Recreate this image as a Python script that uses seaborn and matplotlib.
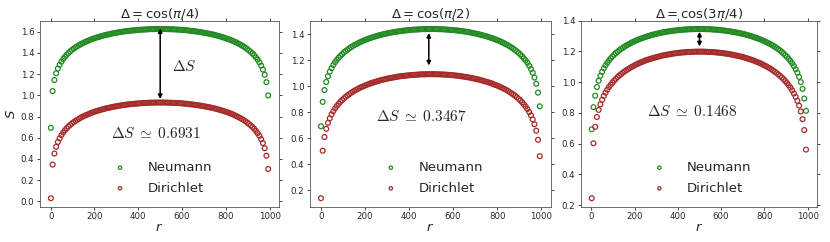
import matplotlib
matplotlib.use("Agg")
from matplotlib import pyplot as plt
import seaborn as sns

# site index along the chain (every 8th site of L = 1000)
r = list(range(1, 1000, 8))

# Delta = cos(pi/4)
neu_pi4 = [0.693, 1.040, 1.144, 1.208, 1.253, 1.288, 1.317, 1.342, 1.363, 1.382, 1.399, 1.414, 1.428, 1.440, 1.452,
           1.462, 1.472, 1.482, 1.490, 1.499, 1.506, 1.513, 1.520, 1.527, 1.533, 1.539, 1.544, 1.549, 1.554, 1.559,
           1.563, 1.568, 1.572, 1.575, 1.579, 1.583, 1.586, 1.589, 1.592, 1.595, 1.598, 1.600, 1.603, 1.605, 1.607,
           1.609, 1.611, 1.612, 1.614, 1.615, 1.617, 1.618, 1.619, 1.620, 1.621, 1.622, 1.623, 1.624, 1.624, 1.624,
           1.625, 1.625, 1.625,
           1.625, 1.625, 1.625, 1.624, 1.624, 1.623, 1.623, 1.622, 1.621, 1.620, 1.619, 1.618, 1.617, 1.615, 1.614,
           1.612, 1.610, 1.608, 1.606, 1.604, 1.602, 1.599, 1.597, 1.594, 1.591, 1.588, 1.585, 1.582, 1.578, 1.575,
           1.571, 1.567, 1.562, 1.558, 1.553, 1.548, 1.543, 1.537, 1.531, 1.525, 1.519, 1.512, 1.504, 1.497, 1.488,
           1.479, 1.470, 1.460, 1.449, 1.437, 1.424, 1.410, 1.395, 1.378, 1.358, 1.336, 1.311, 1.280, 1.243, 1.194,
           1.124, 0.999]
dir_pi4 = [0.030, 0.347, 0.451, 0.515, 0.560, 0.595, 0.624, 0.649, 0.670, 0.689, 0.706, 0.721, 0.735, 0.747, 0.759,
           0.769, 0.779, 0.789, 0.797, 0.806, 0.813, 0.820, 0.827, 0.834, 0.840, 0.846, 0.851, 0.856, 0.861, 0.866,
           0.870, 0.875, 0.879, 0.882, 0.886, 0.890, 0.893, 0.896, 0.899, 0.902, 0.905, 0.907, 0.910, 0.912, 0.914,
           0.916, 0.918, 0.919, 0.921, 0.922, 0.924, 0.925, 0.926, 0.927, 0.928, 0.929, 0.930, 0.931, 0.931, 0.931,
           0.932, 0.932, 0.932,
           0.932, 0.932, 0.932, 0.931, 0.931, 0.930, 0.930, 0.929, 0.928, 0.927, 0.926, 0.925, 0.924, 0.922, 0.921,
           0.919, 0.917, 0.915, 0.913, 0.911, 0.909, 0.906, 0.904, 0.901, 0.898, 0.895, 0.892, 0.889, 0.885, 0.882,
           0.878, 0.874, 0.869, 0.865, 0.860, 0.855, 0.850, 0.844, 0.838, 0.832, 0.826, 0.819, 0.811, 0.804, 0.795,
           0.786, 0.777, 0.767, 0.756, 0.744, 0.731, 0.717, 0.702, 0.685, 0.665, 0.643, 0.618, 0.587, 0.550, 0.501,
           0.431, 0.306]

# Delta = cos(pi/2)
neu_pi2 = [0.693, 0.880, 0.971, 1.033, 1.077, 1.112, 1.140, 1.164, 1.185, 1.203, 1.219, 1.234, 1.247, 1.260, 1.271,
           1.281, 1.291, 1.300, 1.309, 1.317, 1.324, 1.331, 1.338, 1.344, 1.350, 1.356, 1.361, 1.366, 1.371, 1.376,
           1.380, 1.384, 1.388, 1.392, 1.395, 1.399, 1.402, 1.405, 1.408, 1.411, 1.413, 1.416, 1.418, 1.420, 1.422,
           1.424, 1.426, 1.428, 1.429, 1.431, 1.432, 1.433, 1.435, 1.436, 1.436, 1.437, 1.438, 1.439, 1.439, 1.439,
           1.440, 1.440, 1.440,
           1.440, 1.440, 1.440, 1.439, 1.439, 1.438, 1.438, 1.437, 1.436, 1.435, 1.434, 1.433, 1.432, 1.430, 1.429,
           1.427, 1.426, 1.424, 1.422, 1.420, 1.417, 1.415, 1.413, 1.410, 1.407, 1.404, 1.401, 1.398, 1.394, 1.391,
           1.387, 1.383, 1.379, 1.374, 1.370, 1.365, 1.360, 1.354, 1.349, 1.343, 1.336, 1.329, 1.322, 1.315, 1.307,
           1.298, 1.289, 1.279, 1.268, 1.257, 1.244, 1.230, 1.215, 1.199, 1.180, 1.158, 1.133, 1.104, 1.067, 1.020,
           0.951, 0.846]
dir_pi2 = [0.140, 0.505, 0.610, 0.673, 0.719, 0.754, 0.784, 0.808, 0.830, 0.849, 0.865, 0.881, 0.894, 0.907, 0.919,
           0.929, 0.939, 0.949, 0.958, 0.966, 0.973, 0.981, 0.988, 0.994, 1.000, 1.006, 1.011, 1.017, 1.022, 1.027,
           1.031, 1.035, 1.039, 1.043, 1.047, 1.050, 1.054, 1.057, 1.060, 1.063, 1.065, 1.068, 1.070, 1.073, 1.075,
           1.077, 1.079, 1.080, 1.082, 1.083, 1.085, 1.086, 1.087, 1.088, 1.089, 1.090, 1.091, 1.092, 1.092, 1.092,
           1.093, 1.093, 1.093,
           1.093, 1.093, 1.093, 1.092, 1.092, 1.091, 1.091, 1.090, 1.089, 1.088, 1.087, 1.086, 1.085, 1.083, 1.082,
           1.080, 1.078, 1.076, 1.074, 1.072, 1.070, 1.067, 1.065, 1.062, 1.059, 1.056, 1.053, 1.050, 1.046, 1.042,
           1.038, 1.034, 1.030, 1.025, 1.021, 1.015, 1.010, 1.005, 0.999, 0.993, 0.986, 0.979, 0.972, 0.964, 0.955,
           0.946, 0.937, 0.927, 0.916, 0.904, 0.891, 0.877, 0.861, 0.844, 0.825, 0.802, 0.777, 0.746, 0.708, 0.659,
           0.589, 0.463]

# Delta = cos(3pi/4)
neu_3pi4 = [0.693, 0.837, 0.911, 0.968, 1.009, 1.041, 1.067, 1.090, 1.109, 1.126, 1.141, 1.155, 1.167, 1.178, 1.189,
            1.198, 1.207, 1.216, 1.223, 1.231, 1.238, 1.244, 1.250, 1.256, 1.262, 1.267, 1.272, 1.277, 1.281, 1.285,
            1.289, 1.293, 1.297, 1.300, 1.304, 1.307, 1.310, 1.313, 1.315, 1.318, 1.320, 1.323, 1.325, 1.327, 1.329,
            1.330, 1.332, 1.334, 1.335, 1.336, 1.338, 1.339, 1.340, 1.341, 1.342, 1.342, 1.343, 1.344, 1.344, 1.344,
            1.345, 1.345, 1.345,
            1.345, 1.345, 1.345, 1.344, 1.344, 1.344, 1.343, 1.342, 1.341, 1.341, 1.340, 1.339, 1.337, 1.336, 1.335,
            1.333, 1.332, 1.330, 1.328, 1.326, 1.324, 1.322, 1.320, 1.317, 1.315, 1.312, 1.309, 1.306, 1.303, 1.300,
            1.296, 1.292, 1.288, 1.284, 1.280, 1.275, 1.271, 1.266, 1.260, 1.255, 1.249, 1.243, 1.236, 1.229, 1.222,
            1.214, 1.205, 1.196, 1.186, 1.175, 1.164, 1.151, 1.137, 1.122, 1.104, 1.084, 1.061, 1.034, 1.000, 0.956,
            0.893, 0.813]
dir_3pi4 = [0.245, 0.602, 0.709, 0.773, 0.819, 0.855, 0.885, 0.910, 0.931, 0.951, 0.968, 0.983, 0.997, 1.010, 1.021,
            1.033, 1.043, 1.052, 1.061, 1.069, 1.077, 1.084, 1.091, 1.098, 1.104, 1.110, 1.116, 1.121, 1.126, 1.131,
            1.135, 1.140, 1.144, 1.148, 1.151, 1.155, 1.158, 1.161, 1.164, 1.167, 1.170, 1.173, 1.175, 1.177, 1.179,
            1.181, 1.183, 1.185, 1.187, 1.188, 1.190, 1.191, 1.192, 1.193, 1.194, 1.195, 1.196, 1.196, 1.197, 1.197,
            1.198, 1.198, 1.198,
            1.198, 1.198, 1.198, 1.197, 1.197, 1.196, 1.196, 1.195, 1.194, 1.193, 1.192, 1.191, 1.189, 1.188, 1.186,
            1.185, 1.183, 1.181, 1.179, 1.177, 1.174, 1.172, 1.169, 1.167, 1.164, 1.161, 1.157, 1.154, 1.150, 1.147,
            1.143, 1.139, 1.134, 1.130, 1.125, 1.120, 1.114, 1.108, 1.103, 1.096, 1.090, 1.083, 1.075, 1.067, 1.059,
            1.050, 1.040, 1.030, 1.019, 1.007, 0.994, 0.979, 0.964, 0.946, 0.926, 0.904, 0.878, 0.847, 0.809, 0.759,
            0.688, 0.561]

titles = [r"$\Delta = \cos(\pi/4)$", r"$\Delta = \cos(\pi/2)$", r"$\Delta = \cos(3\pi/4)$"]
gap_labels = [r"$\Delta S\;\simeq\;0.6931$", r"$\Delta S\;\simeq\;0.3467$", r"$\Delta S\;\simeq\;0.1468$"]
gap_label_pos = [(482, 0.637), (459, 0.766), (466, 0.808)]
arrow_ends = [(500, 0.965, 1.632), (490, 1.16, 1.41), (500, 1.232, 1.327)]

neumann = [neu_pi4, neu_pi2, neu_3pi4]
dirichlet = [dir_pi4, dir_pi2, dir_3pi4]

sns.set_style("ticks")
plt.rcParams["font.family"] = ["DejaVu Sans"]

green = "#218a21"
red = "#a52a2a"

fig = plt.figure(figsize=(8.3, 2.42), dpi=100)
ax_boxes = [[0.0482, 0.146, 0.288, 0.769],
            [0.3735, 0.146, 0.290, 0.769],
            [0.700, 0.146, 0.284, 0.769]]

for i in range(3):
    ax = fig.add_axes(ax_boxes[i])
    sns.scatterplot(x=r, y=neumann[i], ax=ax, marker="o", s=12, facecolor="none",
                    edgecolor=green, linewidth=0.9, label="Neumann")
    sns.scatterplot(x=r, y=dirichlet[i], ax=ax, marker="o", s=12, facecolor="none",
                    edgecolor=red, linewidth=0.9, label="Dirichlet")

    # double arrow marking the gap between the two curves
    xa, y0, y1 = arrow_ends[i]
    ax.annotate("", xy=(xa, y0), xytext=(xa, y1),
                arrowprops=dict(arrowstyle="<|-|>", color="black", lw=1.1, mutation_scale=6,
                                shrinkA=0, shrinkB=0))
    tx, ty = gap_label_pos[i]
    ax.text(tx, ty, gap_labels[i], ha="center", va="center", fontsize=11, math_fontfamily="cm")
    if i == 0:
        ax.text(555, 1.27, r"$\Delta S$", ha="left", va="center", fontsize=11, math_fontfamily="cm")

    ax.set_title(titles[i], fontsize=9.5, pad=2)
    ax.set_xlabel(r"$r$", fontsize=9.5, labelpad=0)
    if i == 0:
        ax.set_ylabel(r"$S$", fontsize=9.5, labelpad=2)
    ax.set_xticks([0, 200, 400, 600, 800, 1000])
    ax.tick_params(top=True, right=True, labeltop=False, labelright=False, direction="out",
                   length=2, width=0.6, labelsize=6.2, pad=2)
    for sp in ax.spines.values():
        sp.set_linewidth(0.6)
        sp.set_color("#555555")

    ax.legend(loc="lower center", frameon=False, fontsize=9.5, markerscale=0.7,
              handletextpad=1.1, labelspacing=0.58, borderaxespad=0.5)

fig.savefig("out.png", dpi=100)
